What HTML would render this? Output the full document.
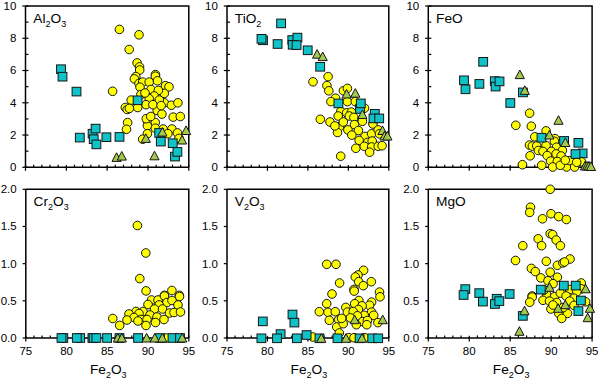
<!DOCTYPE html>
<html><head><meta charset="utf-8"><style>
html,body{margin:0;padding:0;background:#fff;width:600px;height:380px;overflow:hidden}
svg{display:block}
text{font-family:"Liberation Sans",sans-serif;fill:#000}
.tl{font-size:11.5px}
.tt{font-size:13.7px}
.sub{font-size:9px}
.ax{fill:none;stroke:#000;stroke-width:1.5}
.tk{fill:none;stroke:#000;stroke-width:1.2}
.c{fill:#ffff00;stroke:#141414;stroke-width:1}
.s{fill:#0ec2c8;stroke:#141414;stroke-width:1}
.t{fill:#a4c84e;stroke:#141414;stroke-width:1;stroke-linejoin:miter}
</style></head><body>
<svg width="600" height="380" viewBox="0 0 600 380">
<g><path d="M25.5 6.0H188.8V167.3" class="ax"/><path d="M25.5 6.0V167.3H188.8" class="ax"/><path d="M22.3 167.30H28.5" class="tk"/><text x="16.4" y="171.20" class="tl" text-anchor="end">0</text><path d="M22.3 135.04H28.5" class="tk"/><text x="16.4" y="138.94" class="tl" text-anchor="end">2</text><path d="M22.3 102.78H28.5" class="tk"/><text x="16.4" y="106.68" class="tl" text-anchor="end">4</text><path d="M22.3 70.52H28.5" class="tk"/><text x="16.4" y="74.42" class="tl" text-anchor="end">6</text><path d="M22.3 38.26H28.5" class="tk"/><text x="16.4" y="42.16" class="tl" text-anchor="end">8</text><path d="M22.3 6.00H28.5" class="tk"/><text x="16.4" y="9.90" class="tl" text-anchor="end">10</text><path d="M25.5 151.17H28.5" class="tk"/><path d="M25.5 118.91H28.5" class="tk"/><path d="M25.5 86.65H28.5" class="tk"/><path d="M25.5 54.39H28.5" class="tk"/><path d="M25.5 22.13H28.5" class="tk"/><path d="M25.50 165.10000000000002V170.8" class="tk"/><path d="M33.66 164.70000000000002V167.3" class="tk"/><path d="M41.83 164.70000000000002V167.3" class="tk"/><path d="M50.00 164.70000000000002V167.3" class="tk"/><path d="M58.16 164.70000000000002V167.3" class="tk"/><path d="M66.33 165.10000000000002V170.8" class="tk"/><path d="M74.49 164.70000000000002V167.3" class="tk"/><path d="M82.66 164.70000000000002V167.3" class="tk"/><path d="M90.82 164.70000000000002V167.3" class="tk"/><path d="M98.98 164.70000000000002V167.3" class="tk"/><path d="M107.15 165.10000000000002V170.8" class="tk"/><path d="M115.32 164.70000000000002V167.3" class="tk"/><path d="M123.48 164.70000000000002V167.3" class="tk"/><path d="M131.65 164.70000000000002V167.3" class="tk"/><path d="M139.81 164.70000000000002V167.3" class="tk"/><path d="M147.97 165.10000000000002V170.8" class="tk"/><path d="M156.14 164.70000000000002V167.3" class="tk"/><path d="M164.31 164.70000000000002V167.3" class="tk"/><path d="M172.47 164.70000000000002V167.3" class="tk"/><path d="M180.64 164.70000000000002V167.3" class="tk"/><path d="M188.80 165.10000000000002V170.8" class="tk"/><text x="33.3" y="23.0" class="tt"><tspan dy="0">Al</tspan><tspan class="sub" dy="3.5">2</tspan><tspan dy="-3.5">O</tspan><tspan class="sub" dy="3.5">3</tspan></text><circle cx="119.4" cy="29.4" r="4.3" class="c"/><circle cx="139.0" cy="34.8" r="4.3" class="c"/><circle cx="129.2" cy="49.5" r="4.3" class="c"/><circle cx="137.1" cy="62.9" r="4.3" class="c"/><circle cx="139.5" cy="66.9" r="4.3" class="c"/><circle cx="112.6" cy="91.3" r="4.3" class="c"/><circle cx="127.6" cy="122.6" r="4.3" class="c"/><circle cx="126.5" cy="129.3" r="4.3" class="c"/><circle cx="147.4" cy="121.1" r="4.3" class="c"/><circle cx="155.3" cy="122.6" r="4.3" class="c"/><circle cx="147.4" cy="125.8" r="4.3" class="c"/><circle cx="155.3" cy="128.2" r="4.3" class="c"/><circle cx="147.4" cy="133.7" r="4.3" class="c"/><circle cx="142.7" cy="139.2" r="4.3" class="c"/><circle cx="163.2" cy="129.0" r="4.3" class="c"/><circle cx="171.9" cy="129.0" r="4.3" class="c"/><circle cx="167.9" cy="133.7" r="4.3" class="c"/><circle cx="177.4" cy="132.9" r="4.3" class="c"/><circle cx="179.0" cy="138.4" r="4.3" class="c"/><circle cx="139.7" cy="70.0" r="4.3" class="c"/><circle cx="135.8" cy="76.6" r="4.3" class="c"/><circle cx="155.5" cy="74.6" r="4.3" class="c"/><circle cx="125.3" cy="107.5" r="4.3" class="c"/><circle cx="127.2" cy="109.5" r="4.3" class="c"/><circle cx="146.3" cy="118.7" r="4.3" class="c"/><circle cx="155.4" cy="76.2" r="4.3" class="c"/><circle cx="165.5" cy="85.7" r="4.3" class="c"/><circle cx="169.0" cy="86.8" r="4.3" class="c"/><circle cx="164.3" cy="93.4" r="4.3" class="c"/><circle cx="164.3" cy="102.8" r="4.3" class="c"/><circle cx="171.4" cy="105.2" r="4.3" class="c"/><circle cx="177.9" cy="102.8" r="4.3" class="c"/><circle cx="157.2" cy="110.5" r="4.3" class="c"/><circle cx="161.9" cy="114.1" r="4.3" class="c"/><circle cx="150.7" cy="116.5" r="4.3" class="c"/><circle cx="173.2" cy="117.1" r="4.3" class="c"/><circle cx="180.3" cy="116.5" r="4.3" class="c"/><circle cx="134.4" cy="78.9" r="4.3" class="c"/><circle cx="139.0" cy="83.5" r="4.3" class="c"/><circle cx="142.7" cy="82.1" r="4.3" class="c"/><circle cx="149.2" cy="82.1" r="4.3" class="c"/><circle cx="157.5" cy="80.8" r="4.3" class="c"/><circle cx="140.0" cy="87.2" r="4.3" class="c"/><circle cx="151.0" cy="89.5" r="4.3" class="c"/><circle cx="158.4" cy="90.4" r="4.3" class="c"/><circle cx="140.9" cy="94.6" r="4.3" class="c"/><circle cx="154.2" cy="96.0" r="4.3" class="c"/><circle cx="149.2" cy="98.7" r="4.3" class="c"/><circle cx="131.2" cy="100.1" r="4.3" class="c"/><circle cx="159.3" cy="100.1" r="4.3" class="c"/><circle cx="146.0" cy="104.7" r="4.3" class="c"/><circle cx="152.9" cy="104.7" r="4.3" class="c"/><circle cx="137.7" cy="107.5" r="4.3" class="c"/><circle cx="129.4" cy="108.4" r="4.3" class="c"/><circle cx="161.1" cy="105.6" r="4.3" class="c"/><circle cx="145.0" cy="93.0" r="4.3" class="c"/><rect x="56.60" y="64.90" width="8.8" height="8.6" class="s"/><rect x="58.10" y="72.40" width="8.8" height="8.6" class="s"/><rect x="72.10" y="87.30" width="8.8" height="8.6" class="s"/><rect x="75.40" y="133.30" width="8.8" height="8.6" class="s"/><rect x="88.20" y="129.40" width="8.8" height="8.6" class="s"/><rect x="91.20" y="124.30" width="8.8" height="8.6" class="s"/><rect x="89.30" y="134.90" width="8.8" height="8.6" class="s"/><rect x="92.00" y="140.10" width="8.8" height="8.6" class="s"/><rect x="102.00" y="132.90" width="8.8" height="8.6" class="s"/><rect x="115.10" y="132.60" width="8.8" height="8.6" class="s"/><rect x="133.20" y="96.00" width="8.8" height="8.6" class="s"/><rect x="154.80" y="128.60" width="8.8" height="8.6" class="s"/><rect x="156.40" y="137.30" width="8.8" height="8.6" class="s"/><rect x="168.30" y="138.90" width="8.8" height="8.6" class="s"/><rect x="170.60" y="152.30" width="8.8" height="8.6" class="s"/><rect x="173.00" y="147.60" width="8.8" height="8.6" class="s"/><path d="M116.60 152.80L121.20 161.40H112.00Z" class="t"/><path d="M121.80 151.50L126.40 160.10H117.20Z" class="t"/><path d="M154.50 151.20L159.10 159.80H149.90Z" class="t"/><path d="M145.80 133.80L150.40 142.40H141.20Z" class="t"/><path d="M162.40 127.50L167.00 136.10H157.80Z" class="t"/><path d="M182.10 135.40L186.70 144.00H177.50Z" class="t"/><path d="M186.10 125.90L190.70 134.50H181.50Z" class="t"/></g><g><path d="M227.0 6.0H388.8V167.3" class="ax"/><path d="M227.0 6.0V167.3H388.8" class="ax"/><path d="M223.8 167.30H230.0" class="tk"/><text x="217.9" y="171.20" class="tl" text-anchor="end">0</text><path d="M223.8 135.04H230.0" class="tk"/><text x="217.9" y="138.94" class="tl" text-anchor="end">2</text><path d="M223.8 102.78H230.0" class="tk"/><text x="217.9" y="106.68" class="tl" text-anchor="end">4</text><path d="M223.8 70.52H230.0" class="tk"/><text x="217.9" y="74.42" class="tl" text-anchor="end">6</text><path d="M223.8 38.26H230.0" class="tk"/><text x="217.9" y="42.16" class="tl" text-anchor="end">8</text><path d="M223.8 6.00H230.0" class="tk"/><text x="217.9" y="9.90" class="tl" text-anchor="end">10</text><path d="M227.0 151.17H230.0" class="tk"/><path d="M227.0 118.91H230.0" class="tk"/><path d="M227.0 86.65H230.0" class="tk"/><path d="M227.0 54.39H230.0" class="tk"/><path d="M227.0 22.13H230.0" class="tk"/><path d="M227.00 165.10000000000002V170.8" class="tk"/><path d="M235.09 164.70000000000002V167.3" class="tk"/><path d="M243.18 164.70000000000002V167.3" class="tk"/><path d="M251.27 164.70000000000002V167.3" class="tk"/><path d="M259.36 164.70000000000002V167.3" class="tk"/><path d="M267.45 165.10000000000002V170.8" class="tk"/><path d="M275.54 164.70000000000002V167.3" class="tk"/><path d="M283.63 164.70000000000002V167.3" class="tk"/><path d="M291.72 164.70000000000002V167.3" class="tk"/><path d="M299.81 164.70000000000002V167.3" class="tk"/><path d="M307.90 165.10000000000002V170.8" class="tk"/><path d="M315.99 164.70000000000002V167.3" class="tk"/><path d="M324.08 164.70000000000002V167.3" class="tk"/><path d="M332.17 164.70000000000002V167.3" class="tk"/><path d="M340.26 164.70000000000002V167.3" class="tk"/><path d="M348.35 165.10000000000002V170.8" class="tk"/><path d="M356.44 164.70000000000002V167.3" class="tk"/><path d="M364.53 164.70000000000002V167.3" class="tk"/><path d="M372.62 164.70000000000002V167.3" class="tk"/><path d="M380.71 164.70000000000002V167.3" class="tk"/><path d="M388.80 165.10000000000002V170.8" class="tk"/><text x="234.8" y="23.0" class="tt"><tspan dy="0">TiO</tspan><tspan class="sub" dy="3.5">2</tspan></text><circle cx="335.5" cy="98.2" r="4.3" class="c"/><circle cx="328.1" cy="76.6" r="4.3" class="c"/><circle cx="313.0" cy="81.8" r="4.3" class="c"/><circle cx="326.9" cy="85.6" r="4.3" class="c"/><circle cx="328.8" cy="90.8" r="4.3" class="c"/><circle cx="343.4" cy="90.8" r="4.3" class="c"/><circle cx="347.4" cy="88.4" r="4.3" class="c"/><circle cx="320.3" cy="119.3" r="4.3" class="c"/><circle cx="330.9" cy="101.6" r="4.3" class="c"/><circle cx="347.4" cy="101.6" r="4.3" class="c"/><circle cx="355.3" cy="101.6" r="4.3" class="c"/><circle cx="364.5" cy="108.2" r="4.3" class="c"/><circle cx="340.8" cy="111.4" r="4.3" class="c"/><circle cx="346.7" cy="112.8" r="4.3" class="c"/><circle cx="351.3" cy="112.1" r="4.3" class="c"/><circle cx="338.2" cy="116.0" r="4.3" class="c"/><circle cx="349.3" cy="116.0" r="4.3" class="c"/><circle cx="353.9" cy="117.4" r="4.3" class="c"/><circle cx="330.0" cy="122.0" r="4.3" class="c"/><circle cx="339.5" cy="126.6" r="4.3" class="c"/><circle cx="337.5" cy="132.5" r="4.3" class="c"/><circle cx="361.8" cy="119.3" r="4.3" class="c"/><circle cx="334.9" cy="125.9" r="4.3" class="c"/><circle cx="343.3" cy="122.0" r="4.3" class="c"/><circle cx="354.5" cy="124.6" r="4.3" class="c"/><circle cx="362.4" cy="121.3" r="4.3" class="c"/><circle cx="372.9" cy="124.0" r="4.3" class="c"/><circle cx="347.9" cy="129.9" r="4.3" class="c"/><circle cx="358.4" cy="130.5" r="4.3" class="c"/><circle cx="351.8" cy="135.1" r="4.3" class="c"/><circle cx="365.0" cy="136.4" r="4.3" class="c"/><circle cx="371.6" cy="133.8" r="4.3" class="c"/><circle cx="378.2" cy="129.9" r="4.3" class="c"/><circle cx="379.5" cy="133.8" r="4.3" class="c"/><circle cx="359.1" cy="140.4" r="4.3" class="c"/><circle cx="367.6" cy="142.4" r="4.3" class="c"/><circle cx="372.2" cy="141.0" r="4.3" class="c"/><circle cx="355.8" cy="148.3" r="4.3" class="c"/><circle cx="364.3" cy="146.3" r="4.3" class="c"/><circle cx="371.6" cy="147.0" r="4.3" class="c"/><circle cx="378.2" cy="146.3" r="4.3" class="c"/><circle cx="382.1" cy="145.7" r="4.3" class="c"/><circle cx="369.6" cy="152.2" r="4.3" class="c"/><circle cx="340.7" cy="156.2" r="4.3" class="c"/><rect x="276.70" y="19.10" width="8.8" height="8.6" class="s"/><rect x="258.60" y="36.00" width="8.8" height="8.6" class="s"/><rect x="257.10" y="34.50" width="8.8" height="8.6" class="s"/><rect x="273.20" y="39.70" width="8.8" height="8.6" class="s"/><rect x="287.90" y="35.70" width="8.8" height="8.6" class="s"/><rect x="293.00" y="33.30" width="8.8" height="8.6" class="s"/><rect x="288.30" y="40.50" width="8.8" height="8.6" class="s"/><rect x="292.20" y="40.80" width="8.8" height="8.6" class="s"/><rect x="303.30" y="46.00" width="8.8" height="8.6" class="s"/><rect x="315.80" y="62.50" width="8.8" height="8.6" class="s"/><rect x="334.00" y="99.10" width="8.8" height="8.6" class="s"/><rect x="355.60" y="104.70" width="8.8" height="8.6" class="s"/><rect x="356.40" y="99.10" width="8.8" height="8.6" class="s"/><rect x="370.40" y="109.50" width="8.8" height="8.6" class="s"/><rect x="369.10" y="114.10" width="8.8" height="8.6" class="s"/><rect x="374.80" y="114.10" width="8.8" height="8.6" class="s"/><path d="M317.10 49.60L321.70 58.20H312.50Z" class="t"/><path d="M322.70 52.00L327.30 60.60H318.10Z" class="t"/><path d="M346.60 89.40L351.20 98.00H342.00Z" class="t"/><path d="M355.30 88.60L359.90 97.20H350.70Z" class="t"/><path d="M362.40 109.90L367.00 118.50H357.80Z" class="t"/><path d="M382.50 125.90L387.10 134.50H377.90Z" class="t"/><path d="M384.50 131.40L389.10 140.00H379.90Z" class="t"/><path d="M387.40 131.40L392.00 140.00H382.80Z" class="t"/></g><g><path d="M428.3 6.0H592.1V167.3" class="ax"/><path d="M428.3 6.0V167.3H592.1" class="ax"/><path d="M425.1 167.30H431.3" class="tk"/><text x="419.2" y="171.20" class="tl" text-anchor="end">0</text><path d="M425.1 135.04H431.3" class="tk"/><text x="419.2" y="138.94" class="tl" text-anchor="end">2</text><path d="M425.1 102.78H431.3" class="tk"/><text x="419.2" y="106.68" class="tl" text-anchor="end">4</text><path d="M425.1 70.52H431.3" class="tk"/><text x="419.2" y="74.42" class="tl" text-anchor="end">6</text><path d="M425.1 38.26H431.3" class="tk"/><text x="419.2" y="42.16" class="tl" text-anchor="end">8</text><path d="M425.1 6.00H431.3" class="tk"/><text x="419.2" y="9.90" class="tl" text-anchor="end">10</text><path d="M428.3 151.17H431.3" class="tk"/><path d="M428.3 118.91H431.3" class="tk"/><path d="M428.3 86.65H431.3" class="tk"/><path d="M428.3 54.39H431.3" class="tk"/><path d="M428.3 22.13H431.3" class="tk"/><path d="M428.30 165.10000000000002V170.8" class="tk"/><path d="M436.49 164.70000000000002V167.3" class="tk"/><path d="M444.68 164.70000000000002V167.3" class="tk"/><path d="M452.87 164.70000000000002V167.3" class="tk"/><path d="M461.06 164.70000000000002V167.3" class="tk"/><path d="M469.25 165.10000000000002V170.8" class="tk"/><path d="M477.44 164.70000000000002V167.3" class="tk"/><path d="M485.63 164.70000000000002V167.3" class="tk"/><path d="M493.82 164.70000000000002V167.3" class="tk"/><path d="M502.01 164.70000000000002V167.3" class="tk"/><path d="M510.20 165.10000000000002V170.8" class="tk"/><path d="M518.39 164.70000000000002V167.3" class="tk"/><path d="M526.58 164.70000000000002V167.3" class="tk"/><path d="M534.77 164.70000000000002V167.3" class="tk"/><path d="M542.96 164.70000000000002V167.3" class="tk"/><path d="M551.15 165.10000000000002V170.8" class="tk"/><path d="M559.34 164.70000000000002V167.3" class="tk"/><path d="M567.53 164.70000000000002V167.3" class="tk"/><path d="M575.72 164.70000000000002V167.3" class="tk"/><path d="M583.91 164.70000000000002V167.3" class="tk"/><path d="M592.10 165.10000000000002V170.8" class="tk"/><text x="436.1" y="23.0" class="tt"><tspan dy="0">FeO</tspan></text><circle cx="529.6" cy="113.2" r="4.3" class="c"/><circle cx="515.8" cy="125.3" r="4.3" class="c"/><circle cx="531.3" cy="126.2" r="4.3" class="c"/><circle cx="546.1" cy="130.9" r="4.3" class="c"/><circle cx="534.8" cy="136.8" r="4.3" class="c"/><circle cx="555.0" cy="138.6" r="4.3" class="c"/><circle cx="529.5" cy="145.1" r="4.3" class="c"/><circle cx="532.4" cy="146.1" r="4.3" class="c"/><circle cx="530.1" cy="155.8" r="4.3" class="c"/><circle cx="522.4" cy="164.7" r="4.3" class="c"/><circle cx="581.4" cy="161.7" r="4.3" class="c"/><circle cx="546.0" cy="145.5" r="4.3" class="c"/><circle cx="554.4" cy="141.3" r="4.3" class="c"/><circle cx="556.5" cy="147.2" r="4.3" class="c"/><circle cx="536.7" cy="145.9" r="4.3" class="c"/><circle cx="538.4" cy="150.5" r="4.3" class="c"/><circle cx="543.0" cy="151.4" r="4.3" class="c"/><circle cx="551.4" cy="151.4" r="4.3" class="c"/><circle cx="562.4" cy="150.5" r="4.3" class="c"/><circle cx="556.1" cy="153.9" r="4.3" class="c"/><circle cx="561.1" cy="156.0" r="4.3" class="c"/><circle cx="547.2" cy="155.6" r="4.3" class="c"/><circle cx="550.6" cy="161.1" r="4.3" class="c"/><circle cx="557.3" cy="161.5" r="4.3" class="c"/><circle cx="541.7" cy="165.3" r="4.3" class="c"/><circle cx="566.6" cy="167.0" r="4.3" class="c"/><circle cx="569.5" cy="160.6" r="4.3" class="c"/><circle cx="574.6" cy="167.0" r="4.3" class="c"/><circle cx="576.7" cy="162.3" r="4.3" class="c"/><circle cx="552.7" cy="167.0" r="4.3" class="c"/><circle cx="560.3" cy="165.3" r="4.3" class="c"/><circle cx="565.3" cy="160.2" r="4.3" class="c"/><rect x="478.80" y="57.50" width="8.8" height="8.6" class="s"/><rect x="459.60" y="76.00" width="8.8" height="8.6" class="s"/><rect x="461.10" y="85.00" width="8.8" height="8.6" class="s"/><rect x="475.00" y="79.60" width="8.8" height="8.6" class="s"/><rect x="490.40" y="76.80" width="8.8" height="8.6" class="s"/><rect x="491.20" y="82.30" width="8.8" height="8.6" class="s"/><rect x="495.10" y="77.10" width="8.8" height="8.6" class="s"/><rect x="518.50" y="88.10" width="8.8" height="8.6" class="s"/><rect x="505.90" y="98.70" width="8.8" height="8.6" class="s"/><rect x="537.10" y="133.40" width="8.8" height="8.6" class="s"/><rect x="559.70" y="136.60" width="8.8" height="8.6" class="s"/><rect x="574.00" y="138.50" width="8.8" height="8.6" class="s"/><rect x="578.20" y="149.10" width="8.8" height="8.6" class="s"/><rect x="571.10" y="149.70" width="8.8" height="8.6" class="s"/><path d="M519.80 70.00L524.40 78.60H515.20Z" class="t"/><path d="M524.80 85.80L529.40 94.40H520.20Z" class="t"/><path d="M558.50 115.70L563.10 124.30H553.90Z" class="t"/><path d="M549.40 130.40L554.00 139.00H544.80Z" class="t"/><path d="M565.30 137.90L569.90 146.50H560.70Z" class="t"/><path d="M585.00 161.40L589.60 170.00H580.40Z" class="t"/><path d="M587.00 161.40L591.60 170.00H582.40Z" class="t"/><path d="M589.00 161.40L593.60 170.00H584.40Z" class="t"/><path d="M591.00 161.90L595.60 170.50H586.40Z" class="t"/></g><g><path d="M25.8 189.3H188.8V338.0" class="ax"/><path d="M25.8 189.3V338.0H188.8" class="ax"/><path d="M22.6 338.00H25.8" class="tk"/><text x="16.700000000000003" y="341.90" class="tl" text-anchor="end">0.0</text><path d="M22.6 300.82H25.8" class="tk"/><text x="16.700000000000003" y="304.72" class="tl" text-anchor="end">0.5</text><path d="M22.6 263.65H25.8" class="tk"/><text x="16.700000000000003" y="267.55" class="tl" text-anchor="end">1.0</text><path d="M22.6 226.48H25.8" class="tk"/><text x="16.700000000000003" y="230.38" class="tl" text-anchor="end">1.5</text><path d="M22.6 189.30H25.8" class="tk"/><text x="16.700000000000003" y="193.20" class="tl" text-anchor="end">2.0</text><path d="M25.80 335.8V341.5" class="tk"/><text x="25.80" y="355.3" class="tl" text-anchor="middle">75</text><path d="M33.95 335.4V338.0" class="tk"/><path d="M42.10 335.4V338.0" class="tk"/><path d="M50.25 335.4V338.0" class="tk"/><path d="M58.40 335.4V338.0" class="tk"/><path d="M66.55 335.8V341.5" class="tk"/><text x="66.55" y="355.3" class="tl" text-anchor="middle">80</text><path d="M74.70 335.4V338.0" class="tk"/><path d="M82.85 335.4V338.0" class="tk"/><path d="M91.00 335.4V338.0" class="tk"/><path d="M99.15 335.4V338.0" class="tk"/><path d="M107.30 335.8V341.5" class="tk"/><text x="107.30" y="355.3" class="tl" text-anchor="middle">85</text><path d="M115.45 335.4V338.0" class="tk"/><path d="M123.60 335.4V338.0" class="tk"/><path d="M131.75 335.4V338.0" class="tk"/><path d="M139.90 335.4V338.0" class="tk"/><path d="M148.05 335.8V341.5" class="tk"/><text x="148.05" y="355.3" class="tl" text-anchor="middle">90</text><path d="M156.20 335.4V338.0" class="tk"/><path d="M164.35 335.4V338.0" class="tk"/><path d="M172.50 335.4V338.0" class="tk"/><path d="M180.65 335.4V338.0" class="tk"/><path d="M188.80 335.8V341.5" class="tk"/><text x="188.80" y="355.3" class="tl" text-anchor="middle">95</text><text x="33.6" y="206.3" class="tt"><tspan dy="0">Cr</tspan><tspan class="sub" dy="3.5">2</tspan><tspan dy="-3.5">O</tspan><tspan class="sub" dy="3.5">3</tspan></text><text x="108.30" y="374" class="tt" text-anchor="middle">Fe<tspan class="sub" dy="3.5">2</tspan><tspan dy="-3.5">O</tspan><tspan class="sub" dy="3.5">3</tspan></text><circle cx="137.4" cy="225.5" r="4.3" class="c"/><circle cx="145.8" cy="253.0" r="4.3" class="c"/><circle cx="139.8" cy="278.6" r="4.3" class="c"/><circle cx="165.8" cy="338.0" r="4.3" class="c"/><circle cx="112.8" cy="318.5" r="4.3" class="c"/><circle cx="119.7" cy="325.4" r="4.3" class="c"/><circle cx="146.1" cy="290.9" r="4.3" class="c"/><circle cx="171.9" cy="290.5" r="4.3" class="c"/><circle cx="179.3" cy="295.3" r="4.3" class="c"/><circle cx="164.4" cy="295.3" r="4.3" class="c"/><circle cx="151.5" cy="300.0" r="4.3" class="c"/><circle cx="158.0" cy="300.0" r="4.3" class="c"/><circle cx="164.5" cy="296.0" r="4.3" class="c"/><circle cx="179.5" cy="296.5" r="4.3" class="c"/><circle cx="167.0" cy="302.5" r="4.3" class="c"/><circle cx="172.0" cy="300.5" r="4.3" class="c"/><circle cx="178.0" cy="305.0" r="4.3" class="c"/><circle cx="148.0" cy="304.5" r="4.3" class="c"/><circle cx="159.0" cy="305.0" r="4.3" class="c"/><circle cx="154.5" cy="309.0" r="4.3" class="c"/><circle cx="162.5" cy="309.0" r="4.3" class="c"/><circle cx="143.0" cy="311.5" r="4.3" class="c"/><circle cx="169.5" cy="313.0" r="4.3" class="c"/><circle cx="174.0" cy="312.5" r="4.3" class="c"/><circle cx="180.5" cy="312.0" r="4.3" class="c"/><circle cx="136.0" cy="311.5" r="4.3" class="c"/><circle cx="139.0" cy="313.5" r="4.3" class="c"/><circle cx="129.0" cy="314.0" r="4.3" class="c"/><circle cx="150.0" cy="315.0" r="4.3" class="c"/><circle cx="134.0" cy="317.5" r="4.3" class="c"/><circle cx="157.0" cy="317.0" r="4.3" class="c"/><circle cx="141.0" cy="319.5" r="4.3" class="c"/><circle cx="147.0" cy="319.5" r="4.3" class="c"/><circle cx="164.0" cy="319.5" r="4.3" class="c"/><circle cx="138.0" cy="321.0" r="4.3" class="c"/><circle cx="127.0" cy="320.0" r="4.3" class="c"/><circle cx="155.5" cy="322.5" r="4.3" class="c"/><circle cx="146.0" cy="325.5" r="4.3" class="c"/><rect x="58.90" y="333.70" width="8.8" height="8.6" class="s"/><rect x="57.10" y="333.70" width="8.8" height="8.6" class="s"/><rect x="75.80" y="333.70" width="8.8" height="8.6" class="s"/><rect x="72.40" y="333.70" width="8.8" height="8.6" class="s"/><rect x="88.00" y="333.70" width="8.8" height="8.6" class="s"/><rect x="89.20" y="333.70" width="8.8" height="8.6" class="s"/><rect x="92.00" y="333.70" width="8.8" height="8.6" class="s"/><rect x="102.70" y="333.70" width="8.8" height="8.6" class="s"/><rect x="115.10" y="333.70" width="8.8" height="8.6" class="s"/><rect x="133.70" y="333.70" width="8.8" height="8.6" class="s"/><rect x="155.60" y="333.70" width="8.8" height="8.6" class="s"/><rect x="168.10" y="333.70" width="8.8" height="8.6" class="s"/><rect x="175.60" y="333.70" width="8.8" height="8.6" class="s"/><path d="M117.80 333.40L122.40 342.00H113.20Z" class="t"/><path d="M121.80 333.40L126.40 342.00H117.20Z" class="t"/><path d="M146.60 333.40L151.20 342.00H142.00Z" class="t"/><path d="M154.80 333.40L159.40 342.00H150.20Z" class="t"/><path d="M162.30 333.40L166.90 342.00H157.70Z" class="t"/><path d="M182.20 333.40L186.80 342.00H177.60Z" class="t"/></g><g><path d="M227.0 189.3H388.8V338.0" class="ax"/><path d="M227.0 189.3V338.0H388.8" class="ax"/><path d="M223.8 338.00H227.0" class="tk"/><text x="217.9" y="341.90" class="tl" text-anchor="end">0.0</text><path d="M223.8 300.82H227.0" class="tk"/><text x="217.9" y="304.72" class="tl" text-anchor="end">0.5</text><path d="M223.8 263.65H227.0" class="tk"/><text x="217.9" y="267.55" class="tl" text-anchor="end">1.0</text><path d="M223.8 226.48H227.0" class="tk"/><text x="217.9" y="230.38" class="tl" text-anchor="end">1.5</text><path d="M223.8 189.30H227.0" class="tk"/><text x="217.9" y="193.20" class="tl" text-anchor="end">2.0</text><path d="M227.00 335.8V341.5" class="tk"/><text x="227.00" y="355.3" class="tl" text-anchor="middle">75</text><path d="M235.09 335.4V338.0" class="tk"/><path d="M243.18 335.4V338.0" class="tk"/><path d="M251.27 335.4V338.0" class="tk"/><path d="M259.36 335.4V338.0" class="tk"/><path d="M267.45 335.8V341.5" class="tk"/><text x="267.45" y="355.3" class="tl" text-anchor="middle">80</text><path d="M275.54 335.4V338.0" class="tk"/><path d="M283.63 335.4V338.0" class="tk"/><path d="M291.72 335.4V338.0" class="tk"/><path d="M299.81 335.4V338.0" class="tk"/><path d="M307.90 335.8V341.5" class="tk"/><text x="307.90" y="355.3" class="tl" text-anchor="middle">85</text><path d="M315.99 335.4V338.0" class="tk"/><path d="M324.08 335.4V338.0" class="tk"/><path d="M332.17 335.4V338.0" class="tk"/><path d="M340.26 335.4V338.0" class="tk"/><path d="M348.35 335.8V341.5" class="tk"/><text x="348.35" y="355.3" class="tl" text-anchor="middle">90</text><path d="M356.44 335.4V338.0" class="tk"/><path d="M364.53 335.4V338.0" class="tk"/><path d="M372.62 335.4V338.0" class="tk"/><path d="M380.71 335.4V338.0" class="tk"/><path d="M388.80 335.8V341.5" class="tk"/><text x="388.80" y="355.3" class="tl" text-anchor="middle">95</text><text x="234.8" y="206.3" class="tt"><tspan dy="0">V</tspan><tspan class="sub" dy="3.5">2</tspan><tspan dy="-3.5">O</tspan><tspan class="sub" dy="3.5">3</tspan></text><text x="308.90" y="374" class="tt" text-anchor="middle">Fe<tspan class="sub" dy="3.5">2</tspan><tspan dy="-3.5">O</tspan><tspan class="sub" dy="3.5">3</tspan></text><circle cx="326.7" cy="264.3" r="4.3" class="c"/><circle cx="336.0" cy="264.3" r="4.3" class="c"/><circle cx="363.6" cy="270.3" r="4.3" class="c"/><circle cx="358.0" cy="275.0" r="4.3" class="c"/><circle cx="355.3" cy="277.0" r="4.3" class="c"/><circle cx="358.7" cy="281.7" r="4.3" class="c"/><circle cx="363.3" cy="285.7" r="4.3" class="c"/><circle cx="371.3" cy="281.7" r="4.3" class="c"/><circle cx="339.6" cy="283.0" r="4.3" class="c"/><circle cx="354.0" cy="289.4" r="4.3" class="c"/><circle cx="332.0" cy="294.0" r="4.3" class="c"/><circle cx="326.7" cy="303.7" r="4.3" class="c"/><circle cx="319.3" cy="311.7" r="4.3" class="c"/><circle cx="328.0" cy="312.3" r="4.3" class="c"/><circle cx="335.3" cy="311.7" r="4.3" class="c"/><circle cx="329.3" cy="320.3" r="4.3" class="c"/><circle cx="338.7" cy="319.7" r="4.3" class="c"/><circle cx="336.7" cy="327.0" r="4.3" class="c"/><circle cx="339.3" cy="333.0" r="4.3" class="c"/><circle cx="312.7" cy="337.0" r="4.3" class="c"/><circle cx="348.7" cy="337.7" r="4.3" class="c"/><circle cx="354.0" cy="337.7" r="4.3" class="c"/><circle cx="364.7" cy="337.7" r="4.3" class="c"/><circle cx="354.2" cy="291.1" r="4.3" class="c"/><circle cx="379.5" cy="292.1" r="4.3" class="c"/><circle cx="380.0" cy="296.8" r="4.3" class="c"/><circle cx="358.9" cy="300.5" r="4.3" class="c"/><circle cx="354.7" cy="303.7" r="4.3" class="c"/><circle cx="371.6" cy="302.1" r="4.3" class="c"/><circle cx="369.5" cy="305.3" r="4.3" class="c"/><circle cx="362.1" cy="305.8" r="4.3" class="c"/><circle cx="345.8" cy="307.4" r="4.3" class="c"/><circle cx="347.4" cy="312.1" r="4.3" class="c"/><circle cx="358.4" cy="309.5" r="4.3" class="c"/><circle cx="353.2" cy="311.6" r="4.3" class="c"/><circle cx="371.6" cy="312.1" r="4.3" class="c"/><circle cx="373.7" cy="315.3" r="4.3" class="c"/><circle cx="364.2" cy="315.3" r="4.3" class="c"/><circle cx="357.4" cy="315.8" r="4.3" class="c"/><circle cx="350.5" cy="317.9" r="4.3" class="c"/><circle cx="362.6" cy="321.6" r="4.3" class="c"/><circle cx="367.4" cy="320.5" r="4.3" class="c"/><circle cx="366.8" cy="324.7" r="4.3" class="c"/><circle cx="356.3" cy="324.7" r="4.3" class="c"/><circle cx="343.2" cy="323.7" r="4.3" class="c"/><circle cx="341.6" cy="318.4" r="4.3" class="c"/><circle cx="377.9" cy="322.6" r="4.3" class="c"/><rect x="258.40" y="317.10" width="8.8" height="8.6" class="s"/><rect x="288.10" y="310.20" width="8.8" height="8.6" class="s"/><rect x="290.00" y="318.30" width="8.8" height="8.6" class="s"/><rect x="257.00" y="334.00" width="8.8" height="8.6" class="s"/><rect x="276.20" y="329.80" width="8.8" height="8.6" class="s"/><rect x="272.60" y="334.00" width="8.8" height="8.6" class="s"/><rect x="292.50" y="334.00" width="8.8" height="8.6" class="s"/><rect x="302.20" y="330.70" width="8.8" height="8.6" class="s"/><rect x="315.10" y="334.00" width="8.8" height="8.6" class="s"/><rect x="333.10" y="334.00" width="8.8" height="8.6" class="s"/><rect x="355.20" y="334.00" width="8.8" height="8.6" class="s"/><rect x="367.80" y="334.00" width="8.8" height="8.6" class="s"/><rect x="373.80" y="334.00" width="8.8" height="8.6" class="s"/><path d="M321.30 333.70L325.90 342.30H316.70Z" class="t"/><path d="M346.00 333.70L350.60 342.30H341.40Z" class="t"/><path d="M362.00 333.70L366.60 342.30H357.40Z" class="t"/><path d="M354.70 315.10L359.30 323.70H350.10Z" class="t"/><path d="M382.70 315.10L387.30 323.70H378.10Z" class="t"/></g><g><path d="M428.3 189.3H592.1V338.0" class="ax"/><path d="M428.3 189.3V338.0H592.1" class="ax"/><path d="M425.1 338.00H428.3" class="tk"/><text x="419.2" y="341.90" class="tl" text-anchor="end">0.0</text><path d="M425.1 300.82H428.3" class="tk"/><text x="419.2" y="304.72" class="tl" text-anchor="end">0.5</text><path d="M425.1 263.65H428.3" class="tk"/><text x="419.2" y="267.55" class="tl" text-anchor="end">1.0</text><path d="M425.1 226.48H428.3" class="tk"/><text x="419.2" y="230.38" class="tl" text-anchor="end">1.5</text><path d="M425.1 189.30H428.3" class="tk"/><text x="419.2" y="193.20" class="tl" text-anchor="end">2.0</text><path d="M428.30 335.8V341.5" class="tk"/><text x="428.30" y="355.3" class="tl" text-anchor="middle">75</text><path d="M436.49 335.4V338.0" class="tk"/><path d="M444.68 335.4V338.0" class="tk"/><path d="M452.87 335.4V338.0" class="tk"/><path d="M461.06 335.4V338.0" class="tk"/><path d="M469.25 335.8V341.5" class="tk"/><text x="469.25" y="355.3" class="tl" text-anchor="middle">80</text><path d="M477.44 335.4V338.0" class="tk"/><path d="M485.63 335.4V338.0" class="tk"/><path d="M493.82 335.4V338.0" class="tk"/><path d="M502.01 335.4V338.0" class="tk"/><path d="M510.20 335.8V341.5" class="tk"/><text x="510.20" y="355.3" class="tl" text-anchor="middle">85</text><path d="M518.39 335.4V338.0" class="tk"/><path d="M526.58 335.4V338.0" class="tk"/><path d="M534.77 335.4V338.0" class="tk"/><path d="M542.96 335.4V338.0" class="tk"/><path d="M551.15 335.8V341.5" class="tk"/><text x="551.15" y="355.3" class="tl" text-anchor="middle">90</text><path d="M559.34 335.4V338.0" class="tk"/><path d="M567.53 335.4V338.0" class="tk"/><path d="M575.72 335.4V338.0" class="tk"/><path d="M583.91 335.4V338.0" class="tk"/><path d="M592.10 335.8V341.5" class="tk"/><text x="592.10" y="355.3" class="tl" text-anchor="middle">95</text><text x="436.1" y="206.3" class="tt"><tspan dy="0">MgO</tspan></text><text x="511.20" y="374" class="tt" text-anchor="middle">Fe<tspan class="sub" dy="3.5">2</tspan><tspan dy="-3.5">O</tspan><tspan class="sub" dy="3.5">3</tspan></text><circle cx="550.2" cy="189.3" r="4.3" class="c"/><circle cx="530.5" cy="207.2" r="4.3" class="c"/><circle cx="529.7" cy="212.4" r="4.3" class="c"/><circle cx="542.5" cy="218.8" r="4.3" class="c"/><circle cx="551.0" cy="213.7" r="4.3" class="c"/><circle cx="558.7" cy="216.6" r="4.3" class="c"/><circle cx="566.4" cy="219.5" r="4.3" class="c"/><circle cx="550.2" cy="233.7" r="4.3" class="c"/><circle cx="552.7" cy="234.6" r="4.3" class="c"/><circle cx="556.2" cy="240.0" r="4.3" class="c"/><circle cx="560.4" cy="245.7" r="4.3" class="c"/><circle cx="538.2" cy="238.8" r="4.3" class="c"/><circle cx="541.6" cy="245.7" r="4.3" class="c"/><circle cx="522.8" cy="245.7" r="4.3" class="c"/><circle cx="515.5" cy="260.5" r="4.3" class="c"/><circle cx="546.3" cy="261.3" r="4.3" class="c"/><circle cx="557.4" cy="265.3" r="4.3" class="c"/><circle cx="562.9" cy="262.9" r="4.3" class="c"/><circle cx="570.0" cy="259.0" r="4.3" class="c"/><circle cx="531.3" cy="268.4" r="4.3" class="c"/><circle cx="535.3" cy="271.6" r="4.3" class="c"/><circle cx="532.1" cy="296.0" r="4.3" class="c"/><circle cx="532.2" cy="297.1" r="4.3" class="c"/><circle cx="529.7" cy="302.2" r="4.3" class="c"/><circle cx="550.2" cy="272.2" r="4.3" class="c"/><circle cx="540.8" cy="277.9" r="4.3" class="c"/><circle cx="557.4" cy="277.2" r="4.3" class="c"/><circle cx="548.0" cy="280.8" r="4.3" class="c"/><circle cx="553.1" cy="283.7" r="4.3" class="c"/><circle cx="581.2" cy="283.0" r="4.3" class="c"/><circle cx="581.2" cy="288.8" r="4.3" class="c"/><circle cx="569.7" cy="289.5" r="4.3" class="c"/><circle cx="576.9" cy="291.7" r="4.3" class="c"/><circle cx="546.6" cy="294.6" r="4.3" class="c"/><circle cx="554.5" cy="296.7" r="4.3" class="c"/><circle cx="560.3" cy="293.1" r="4.3" class="c"/><circle cx="566.1" cy="296.0" r="4.3" class="c"/><circle cx="574.0" cy="298.2" r="4.3" class="c"/><circle cx="543.0" cy="300.3" r="4.3" class="c"/><circle cx="549.5" cy="301.1" r="4.3" class="c"/><circle cx="556.7" cy="302.5" r="4.3" class="c"/><circle cx="569.7" cy="301.1" r="4.3" class="c"/><circle cx="585.6" cy="301.8" r="4.3" class="c"/><circle cx="550.9" cy="309.0" r="4.3" class="c"/><circle cx="574.0" cy="305.4" r="4.3" class="c"/><circle cx="558.8" cy="313.4" r="4.3" class="c"/><circle cx="567.5" cy="313.4" r="4.3" class="c"/><circle cx="561.7" cy="318.4" r="4.3" class="c"/><circle cx="563.2" cy="307.6" r="4.3" class="c"/><circle cx="553.0" cy="305.0" r="4.3" class="c"/><circle cx="544.0" cy="290.0" r="4.3" class="c"/><circle cx="564.5" cy="262.0" r="4.3" class="c"/><rect x="460.90" y="284.80" width="8.8" height="8.6" class="s"/><rect x="459.20" y="290.70" width="8.8" height="8.6" class="s"/><rect x="474.90" y="288.80" width="8.8" height="8.6" class="s"/><rect x="478.50" y="297.30" width="8.8" height="8.6" class="s"/><rect x="492.30" y="294.40" width="8.8" height="8.6" class="s"/><rect x="490.50" y="299.70" width="8.8" height="8.6" class="s"/><rect x="494.90" y="296.80" width="8.8" height="8.6" class="s"/><rect x="505.20" y="289.70" width="8.8" height="8.6" class="s"/><rect x="536.40" y="285.30" width="8.8" height="8.6" class="s"/><rect x="559.40" y="281.30" width="8.8" height="8.6" class="s"/><rect x="571.30" y="281.30" width="8.8" height="8.6" class="s"/><rect x="576.50" y="296.20" width="8.8" height="8.6" class="s"/><rect x="574.00" y="306.80" width="8.8" height="8.6" class="s"/><rect x="518.40" y="311.60" width="8.8" height="8.6" class="s"/><path d="M524.50 306.20L529.10 314.80H519.90Z" class="t"/><path d="M519.40 326.70L524.00 335.30H514.80Z" class="t"/><path d="M549.50 282.70L554.10 291.30H544.90Z" class="t"/><path d="M585.60 284.20L590.20 292.80H581.00Z" class="t"/><path d="M565.30 300.10L569.90 308.70H560.70Z" class="t"/><path d="M558.10 303.70L562.70 312.30H553.50Z" class="t"/><path d="M589.90 303.70L594.50 312.30H585.30Z" class="t"/><path d="M587.70 313.10L592.30 321.70H583.10Z" class="t"/></g>
</svg></body></html>
